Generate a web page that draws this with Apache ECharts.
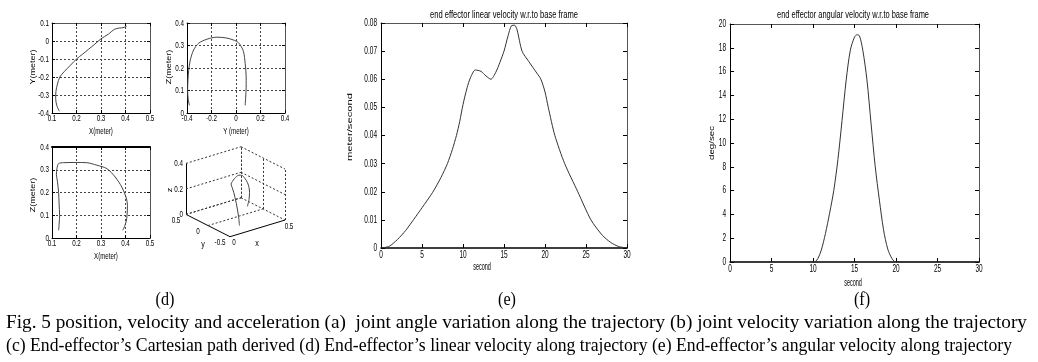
<!DOCTYPE html>
<html><head><meta charset="utf-8">
<script src="https://cdn.jsdelivr.net/npm/echarts/dist/echarts.min.js"></script>
<style>html,body{margin:0;padding:0;background:#fff}#c{width:1038px;height:362px}</style>
</head><body><div id="c"></div>
<script>
// ---------- data ----------
// (d) X-Y path
const xyX = [0.13,0.12,0.115,0.116,0.122,0.132,0.15,0.175,0.2,0.225,0.25,0.275,0.3,0.33,0.355,0.375,0.39,0.405];
const xyY = [-0.39,-0.36,-0.32,-0.28,-0.24,-0.2,-0.17,-0.135,-0.1,-0.073,-0.045,-0.017,0.012,0.038,0.065,0.072,0.074,0.082];
// (d) Y-Z path
const yzY = [-0.38,-0.39,-0.395,-0.392,-0.386,-0.373,-0.346,-0.305,-0.237,-0.156,-0.075,0.007,0.034,0.061,0.075,0.083,0.083,0.082,0.075];
const yzZ = [0.034,0.06,0.1,0.15,0.19,0.236,0.28,0.31,0.328,0.337,0.333,0.318,0.303,0.273,0.22,0.16,0.13,0.1,0.034];
// (d) X-Z path
const xzX = [0.127,0.131,0.129,0.127,0.122,0.118,0.12,0.127,0.147,0.2,0.242,0.283,0.324,0.358,0.385,0.402,0.408,0.405,0.398,0.389];
const xzZ = [0.034,0.1,0.15,0.2,0.25,0.28,0.305,0.327,0.331,0.332,0.331,0.32,0.305,0.268,0.224,0.18,0.144,0.085,0.056,0.034];
// (d) 3-D path
const p3X = [0.13,0.13,0.125,0.118,0.12,0.13,0.16,0.2,0.24,0.28,0.32,0.355,0.385,0.402,0.408,0.405,0.39];
const p3Y = [-0.39,-0.37,-0.33,-0.29,-0.25,-0.2,-0.155,-0.1,-0.05,0.0,0.03,0.05,0.065,0.072,0.077,0.08,0.08];
const p3Z = [0.034,0.1,0.2,0.28,0.31,0.327,0.331,0.333,0.331,0.322,0.305,0.27,0.224,0.18,0.14,0.085,0.034];
const box3dX = [0,0.5], box3dY = [-0.5,0.5], box3dZ = [0,0.4];
const ticks3dX = [0,0.5], ticks3dY = [-0.5,0,0.5], ticks3dZ = [0,0.2,0.4];
// (e) linear velocity
const timeE = [0,1,2,3,4,5,6.3,7.3,8.1,8.7,9.2,9.6,10,10.5,10.9,11.5,12.2,12.8,13.4,14,14.5,15,15.5,15.9,16.3,16.6,17.2,18,19,19.5,20,20.4,21.2,22.4,24,25.6,27,28,29,30];
const linVel = [0,0.0006,0.003,0.0062,0.0102,0.0143,0.0198,0.025,0.03,0.035,0.04,0.045,0.051,0.057,0.0605,0.0633,0.0628,0.0612,0.06,0.0625,0.066,0.07,0.0755,0.079,0.0792,0.0775,0.07,0.0664,0.0622,0.06,0.0555,0.05,0.04,0.03,0.02,0.01,0.0045,0.002,0.0005,0];
// (f) angular velocity
const timeF = [0,10,10.3,10.6,11,11.5,12,12.5,13,13.5,14,14.5,15,15.3,15.6,16,16.5,17,17.5,18,18.5,19,19.5,19.8,20,30];
const angVel = [0,0,0.05,0.3,1.0,2.4,4.1,6.0,8.6,11.9,15.3,17.8,18.9,19.1,19.0,17.8,15.3,11.6,8.0,5.2,2.7,1.1,0.3,0.05,0,0];

const titleE = 'end effector linear velocity w.r.to base frame';
const titleF = 'end effector angular velocity w.r.to base frame';
const cap1 = 'Fig. 5 position, velocity and acceleration (a)  joint angle variation along the trajectory (b) joint velocity variation along the trajectory';
const cap2 = '(c) End-effector\u2019s Cartesian path derived (d) End-effector\u2019s linear velocity along trajectory (e) End-effector\u2019s angular velocity along trajectory';

// ---------- helpers ----------
const SANS = '"Liberation Sans",Arial,sans-serif';
const SERIF = '"Liberation Serif","DejaVu Serif",serif';
const zip = (a,b) => a.map((v,i)=>[v,b[i]]);
const mctx = document.createElement('canvas').getContext('2d');
function fit(text, font, w){ mctx.font = font; return w / mctx.measureText(text).width; }

const grid = [
  {left:52, top:23, width:98, height:90},
  {left:187, top:23, width:98, height:90},
  {left:52, top:147, width:98, height:91},
  {left:160, top:135, width:130, height:115},
  {left:381, top:23, width:246, height:225},
  {left:730, top:24, width:249, height:238}
];
const xAxis = [], yAxis = [], tickAxes = [];
function ax(g, pos, r, split, lw, col, tl){
  return {type:'value', gridIndex:g, position:pos, min:r[0], max:r[1], interval:r[2],
    axisLine:{show:true, onZero:false, lineStyle:{color:col||'#000', width:lw||1}},
    axisTick:{show:true, inside:true, length:tl||3, lineStyle:{color:'#000', width:1}},
    axisLabel:{show:false},
    splitLine:{show:split, lineStyle:{color:'#444', type:[2,2], width:1}}};
}
function box(g, xr, yr, split, o){
  o = o||{};
  const xi = xAxis.length, yi = yAxis.length;
  xAxis.push(ax(g,'bottom',xr,split,o.bw,o.bc,o.tl));
  xAxis.push(ax(g,'top',xr,false,o.tw,o.tc||'#555',o.tl));
  yAxis.push(ax(g,'left',yr,split,o.lw,o.lc,o.tl));
  yAxis.push(ax(g,'right',yr,false,1,o.rc||'#555',o.tl));
  tickAxes.push({g, xr, yr, size:o.fs||9.5, sx:o.sx||0.66, dy:o.dy||5.5, dx:o.dx||3});
  return [xi, yi];
}
const a0 = box(0,[0.1,0.5,0.1],[-0.4,0.1,0.1],true);
const a1 = box(1,[-0.4,0.4,0.2],[0,0.4,0.1],true);
const a2 = box(2,[0.1,0.5,0.1],[0,0.4,0.1],true,{tw:2,tc:'#000'});
const a4 = box(4,[0,30,5],[0,0.08,0.01],false,{bw:1.5,tl:4,fs:10.5,sx:0.62,dy:7,dx:4});
const a5 = box(5,[0,30,5],[0,20,2],false,{bw:1.5,tl:4,fs:10.5,sx:0.62,dy:7,dx:4});
// hidden projection plane for the 3-D view
const a3 = [xAxis.length, yAxis.length];
xAxis.push({type:'value', gridIndex:3, min:0, max:130, show:false});
yAxis.push({type:'value', gridIndex:3, min:0, max:115, inverse:true, show:false});

// 3-D projection (MATLAB default view as seen in the figure)
const cam = {o:[70,101.7], ex:[110,-33.3], ey:[-44,-22.3], ez:[0,-127.5]};
function proj(x,y,z){
  const u=x-box3dX[0], v=y-box3dY[0], w=z-box3dZ[0];
  return [cam.o[0]+cam.ex[0]*u+cam.ey[0]*v+cam.ez[0]*w, cam.o[1]+cam.ex[1]*u+cam.ey[1]*v+cam.ez[1]*w];
}
const [x0,x1]=box3dX,[y0,y1]=box3dY,[z0,z1]=box3dZ;
const solidSeg = [
  [proj(x0,y1,z0),proj(x0,y1,z1)],
  [proj(x0,y1,z0),proj(x0,y0,z0)],
  [proj(x0,y0,z0),proj(x1,y0,z0)]
];
const dashSeg = [];
ticks3dZ.forEach(z=>{ dashSeg.push([proj(x0,y1,z),proj(x1,y1,z)]); dashSeg.push([proj(x1,y1,z),proj(x1,y0,z)]); });
ticks3dY.forEach(y=>{ dashSeg.push([proj(x1,y,z0),proj(x1,y,z1)]); if(y>y0) dashSeg.push([proj(x0,y,z0),proj(x1,y,z0)]); });
ticks3dX.forEach(x=>{ if(x>x0) dashSeg.push([proj(x,y1,z0),proj(x,y1,z1)]); });
const path3d = p3X.map((x,i)=>proj(x,p3Y[i],p3Z[i]));

function curve(a, data, col, sm){
  return {type:'line', xAxisIndex:a[0], yAxisIndex:a[1], data, symbol:'none', smooth:sm===undefined?0.3:sm,
    lineStyle:{color:col||'#444', width:1}, silent:true, animation:false, z:5};
}
const series = [
  curve(a0, zip(xyX,xyY)),
  curve(a1, zip(yzY,yzZ)),
  curve(a2, zip(xzX,xzZ)),
  curve(a4, zip(timeE,linVel), '#333', 0.25),
  curve(a5, zip(timeF,angVel), '#333', 0.3),
  curve(a3, path3d, '#444'),
  {type:'lines', coordinateSystem:'cartesian2d', xAxisIndex:a3[0], yAxisIndex:a3[1], silent:true, animation:false,
    data: solidSeg.map(c=>({coords:c})), lineStyle:{color:'#000', width:1, opacity:1}},
  {type:'lines', coordinateSystem:'cartesian2d', xAxisIndex:a3[0], yAxisIndex:a3[1], silent:true, animation:false,
    data: dashSeg.map(c=>({coords:c})), lineStyle:{color:'#333', width:1, type:[2,2], opacity:1}}
];

function t(text, x, y, o){
  o = o||{};
  const font = (o.size||9)+'px '+(o.family||SANS);
  const el = {type:'text', x, y, rotation:o.rot||0, silent:true, z:10,
    style:{text, font, fill:'#000', textAlign:o.align||'center', align:o.align||'center',
      textVerticalAlign:o.valign||'middle', verticalAlign:o.valign||'middle'}};
  if(o.w) el.scaleX = fit(text, font, o.w);
  else if(o.sx) el.scaleX = o.sx;
  if(o.sy) el.scaleY = o.sy;
  return el;
}
const R = Math.PI/2;
const fmt = v => String(+v.toFixed(10));

const chart = echarts.init(document.getElementById('c'), null, {renderer:'canvas'});
chart.setOption({animation:false, backgroundColor:'#fff', grid, xAxis, yAxis, series});

// tick labels positioned through the axes' own scales
const graphic = [];
tickAxes.forEach(A=>{
  const nx = Math.round((A.xr[1]-A.xr[0])/A.xr[2]), ny = Math.round((A.yr[1]-A.yr[0])/A.yr[2]);
  for(let i=0;i<=nx;i++){
    const v = A.xr[0]+i*A.xr[2];
    const p = chart.convertToPixel({gridIndex:A.g}, [v, A.yr[0]]);
    graphic.push(t(fmt(v), p[0], p[1]+A.dy, {size:A.size, sx:A.sx}));
  }
  for(let i=0;i<=ny;i++){
    const v = A.yr[0]+i*A.yr[2];
    const p = chart.convertToPixel({gridIndex:A.g}, [A.xr[0], v]);
    graphic.push(t(fmt(v), p[0]-A.dx, p[1], {size:A.size, sx:A.sx, align:'right'}));
  }
});
// 3-D tick labels
const px3 = q => chart.convertToPixel({gridIndex:3}, q);
ticks3dZ.forEach(z=>{ const p=px3(proj(x0,y1,z)); graphic.push(t(fmt(z), p[0]-3, p[1], {size:9.5, sx:0.66, align:'right'})); });
ticks3dY.forEach(y=>{ const p=px3(proj(x0,y,z0)); graphic.push(t(fmt(y), p[0]-10, p[1]+6, {size:9.5, sx:0.66})); });
ticks3dX.forEach(x=>{ const p=px3(proj(x,y0,z0)); graphic.push(t(fmt(x), p[0]+4, p[1]+6, {size:9.5, sx:0.66})); });

graphic.push(
  t('Y(meter)', 33, 67, {rot:R, sy:0.72}),
  t('X(meter)', 101, 132, {sx:0.68}),
  t('Z(meter)', 169, 67, {rot:R, sy:0.72}),
  t('Y (meter)', 236, 132, {sx:0.68}),
  t('Z(meter)', 33, 195, {rot:R, sy:0.72}),
  t('X(meter)', 106, 257, {sx:0.68}),
  t('z', 170, 190, {rot:R, sy:0.72}),
  t('y', 203, 245, {sx:0.8}),
  t('x', 257, 244, {sx:0.8}),
  t(titleE, 504, 15, {size:10, w:148}),
  t(titleF, 853, 15, {size:10, w:152}),
  t('meter/second', 350, 127, {rot:R, size:10, w:68, sy:0.65}),
  t('second', 482, 267, {size:10, sx:0.55}),
  t('deg/sec', 712, 143, {rot:R, size:10, w:34, sy:0.65}),
  t('second', 853, 283, {size:10, sx:0.55}),
  t('(d)', 165, 300, {size:19, family:SERIF, sx:0.85}),
  t('(e)', 507, 300, {size:19, family:SERIF, sx:0.85}),
  t('(f)', 862, 300, {size:19, family:SERIF, sx:0.85}),
  t(cap1, 6, 323, {size:19, family:SERIF, align:'left', w:1021}),
  t(cap2, 6, 346, {size:19, family:SERIF, align:'left', w:1006})
);
chart.setOption({graphic});
</script></body></html>
